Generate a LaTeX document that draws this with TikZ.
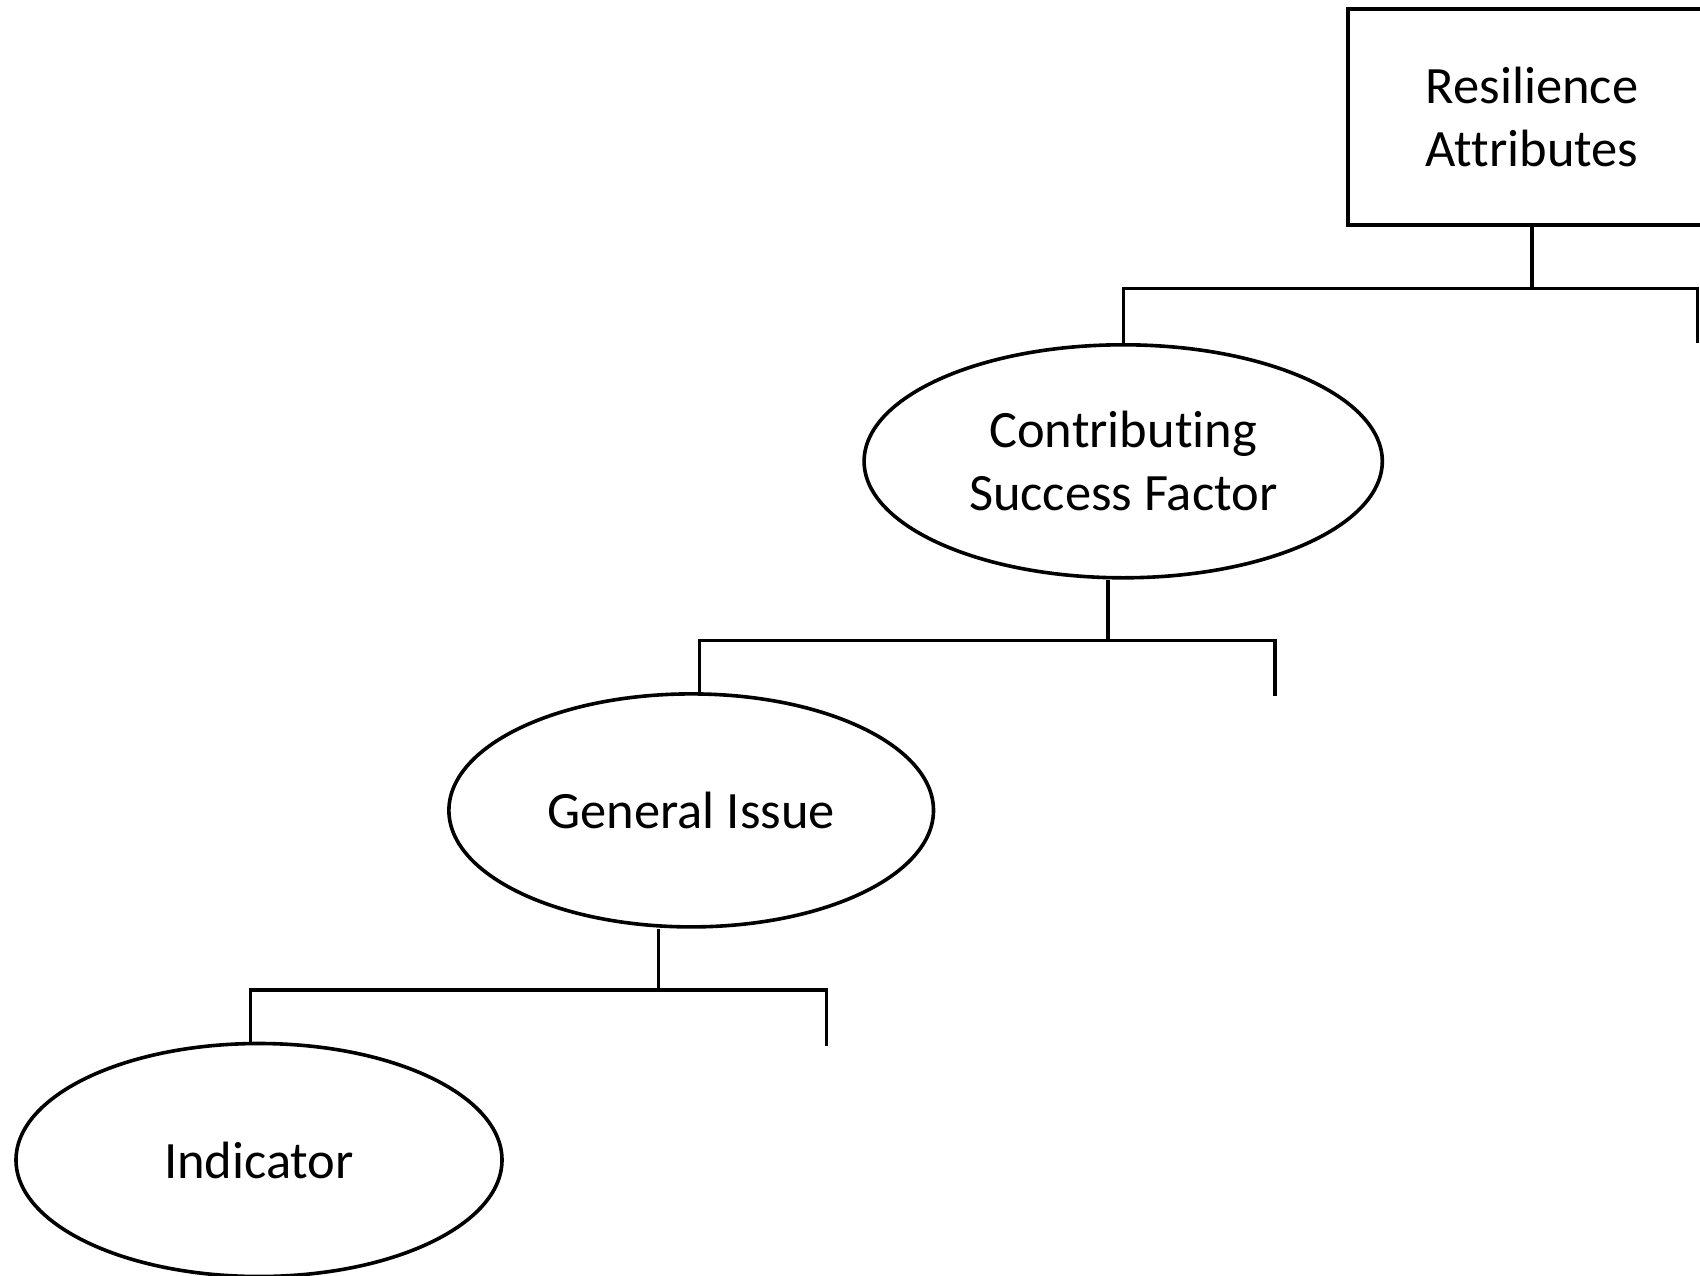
\documentclass[tikz,border=0pt]{standalone}
\usepackage{fontspec}
\setmainfont{Carlito}[Ligatures=NoCommon]
\usetikzlibrary{shapes.geometric}
\begin{document}
\begin{tikzpicture}[x=1pt,y=-1pt,
  lbl/.style={font=\fontsize{52.5}{63}\selectfont, align=center},
  box/.style={draw, rectangle, line width=4pt, minimum width=368.8pt, minimum height=216.8pt, inner sep=0pt, lbl},
  oval/.style={draw, ellipse, line width=3.6pt, inner sep=0pt, minimum height=233pt, lbl},
  link/.style={line width=3.2pt, line join=miter}]
\useasboundingbox (0,0) rectangle (1700,1276);
\fill[white] (0,0) rectangle (1700,1276);
% nodes
\node[box] (ra) at (1532,117.1) {Resilience\\Attributes};
\node[oval, minimum width=518.2pt] (csf) at (1123.2,461.3) {Contributing\\Success Factor};
\node[oval, minimum width=484.6pt] (gi) at (691.2,810.4) {General Issue};
\node[oval, minimum width=486pt] (ind) at (259,1160) {Indicator};
% junction coordinates
\coordinate (j1) at (1532,288.4);
\coordinate (j1l) at (1123.2,288.4);
\coordinate (j1r) at (1697.8,288.4);
\coordinate (e1r) at (1697.8,342.6);
\coordinate (s2) at (1108,640.7);
\coordinate (j2l) at (699.3,640.7);
\coordinate (j2r) at (1275,640.7);
\coordinate (e2r) at (1275,696);
\coordinate (s3) at (658.1,989.9);
\coordinate (j3l) at (250.4,989.9);
\coordinate (j3r) at (826.1,989.9);
\coordinate (e3r) at (826.1,1046.2);
% connectors
\draw[link] (ra.south) -- (j1);
\draw[link] (csf.north) -- (j1l) -- (j1r) -- (e1r);
\draw[link] (s2 |- csf.south) -- (s2);
\draw[link] (j2l |- gi.north) -- (j2l) -- (j2r) -- (e2r);
\draw[link] (s3 |- gi.south) -- (s3);
\draw[link] (j3l |- ind.north) -- (j3l) -- (j3r) -- (e3r);
\end{tikzpicture}
\end{document}
